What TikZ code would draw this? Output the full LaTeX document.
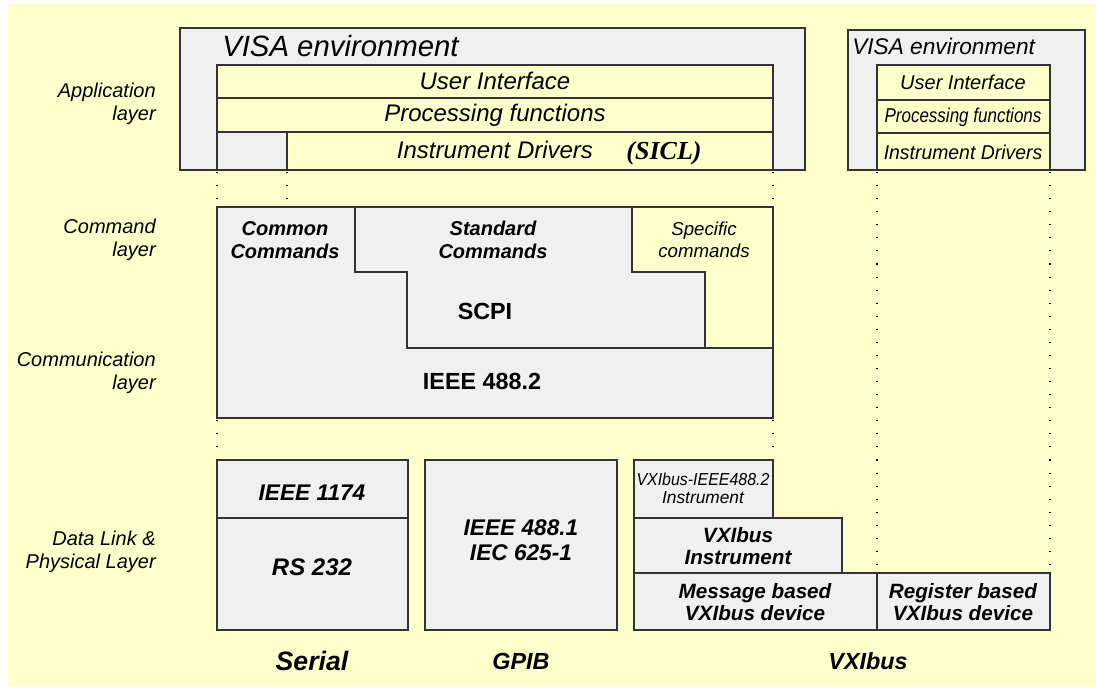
\documentclass[tikz,border=0pt]{standalone}
\usepackage{fontspec}
\setmainfont{Liberation Sans}
\newfontfamily\timesf{Liberation Serif}
\definecolor{bgy}{HTML}{FFFFCC}
\definecolor{boxg}{HTML}{F0F0F0}
\definecolor{edge}{HTML}{333333}
\newcommand{\fsz}[1]{\fontsize{#1}{1.15\dimexpr #1pt\relax}\selectfont}
\newcommand{\fszl}[2]{\fontsize{#1}{#2}\selectfont}
\begin{document}
\begin{tikzpicture}[x=0.75pt,y=-0.75pt,
  gbox/.style={draw=edge, fill=boxg, line width=0.8pt},
  ybox/.style={draw=edge, fill=bgy, line width=0.8pt},
  edgeline/.style={draw=edge, line width=0.8pt},
  dotl/.style={draw=black, line width=1.1pt, dash pattern=on 0.8pt off 9pt},
  lbl/.style={font=\itshape\fsz{15}, align=right, anchor=east, inner sep=0pt},
  itx/.style={font=\itshape\fsz{18}, inner sep=0pt},
  bix/.style={font=\bfseries\itshape\fsz{15}, align=center, inner sep=0pt},
  bup/.style={font=\bfseries\fsz{17.5}, align=center, inner sep=0pt},
  sitx/.style={font=\itshape\fsz{15}, inner sep=0pt}]
\useasboundingbox (0,0) rectangle (1096,687);
\fill[white] (0,0) rectangle (1096,687);
\fill[bgy] (8,4) rectangle (1096,687);

% ---------- Application layer: left VISA environment
\draw[gbox] (180,28) rectangle (805,170);
\node[anchor=base west, font=\itshape\fsz{22}, inner sep=0pt] (visaA) at (222,56) {VISA environment};
\draw[ybox] (217,65) rectangle (773,98);
\draw[ybox] (217,98) rectangle (773,132);
\draw[gbox] (217,132) rectangle (287,170);
\draw[ybox] (287,132) rectangle (773,170);
\node[itx] (uiA) at (495,81) {User Interface};
\node[itx] (pfA) at (495,115) {Processing functions};
\node[itx] (idA) at (495,150) {Instrument Drivers};
\node[font=\timesf\bfseries\itshape\fsz{19.5}, inner sep=0pt] (sicl) at (664,153) {(SICL)};

% ---------- right VISA environment
\draw[gbox] (848,30) rectangle (1085,170);
\node[anchor=base west, font=\itshape\fsz{17}, inner sep=0pt] (visaB) at (852,54) {VISA environment};
\draw[ybox] (877,65) rectangle (1050,100);
\draw[ybox] (877,100) rectangle (1050,133);
\draw[ybox] (877,133) rectangle (1050,170);
\node[sitx] (uiB) at (963,82) {User Interface};
\node[sitx] (pfB) at (963,117) {\scalebox{0.85}[1]{Processing functions}};
\node[sitx] (idB) at (963,152) {\scalebox{0.97}[1]{Instrument Drivers}};

% ---------- Command / communication layer
\fill[boxg] (217,207) rectangle (773,418);
\fill[bgy] (632,207) -- (773,207) -- (773,348) -- (705,348) -- (705,272) -- (632,272) -- cycle;
\draw[edgeline] (217,207) rectangle (773,418);
\draw[edgeline] (355,207) -- (355,272) -- (407,272) -- (407,348) -- (773,348);
\draw[edgeline] (632,207) -- (632,272) -- (705,272) -- (705,348);
\node[bix] (common) at (285,240) {Common\\Commands};
\node[bix] (standard) at (493,240) {Standard\\Commands};
\node[font=\itshape\fsz{14}, align=center, inner sep=0pt] (specific) at (704,240) {Specific\\commands};
\node[bup] (scpi) at (485,311) {SCPI};
\node[bup] (ieee4882) at (482,381) {IEEE 488.2};

% ---------- Data link & physical layer
\draw[gbox] (217,460) rectangle (408,630);
\draw[edgeline] (217,518) -- (408,518);
\node[bix, font=\bfseries\itshape\fsz{17}] (ieee1174) at (312,493) {IEEE 1174};
\node[bix, font=\bfseries\itshape\fsz{18}] (rs232) at (312,567) {RS 232};

\draw[gbox] (425,460) rectangle (617,630);
\node[bix, font=\bfseries\itshape\fszl{17}{19pt}] (gpibstd) at (521,540) {IEEE 488.1\\IEC 625-1};

\draw[gbox] (634,460) rectangle (773,518);
\draw[gbox] (634,518) rectangle (842,573);
\draw[gbox] (634,573) rectangle (877,630);
\draw[gbox] (877,573) rectangle (1050,630);
\node[font=\itshape\fszl{13}{13.5pt}, align=center, inner sep=0pt] (vxi488) at (703,488) {\scalebox{0.92}[1]{VXIbus-IEEE488.2}\\Instrument};
\node[bix, font=\bfseries\itshape\fszl{15.5}{17pt}] (vxiinst) at (738,546) {VXIbus\\Instrument};
\node[bix, font=\bfseries\itshape\fszl{15.5}{17pt}] (msg) at (755,602) {Message based\\VXIbus device};
\node[bix, font=\bfseries\itshape\fszl{15.5}{17pt}] (reg) at (963,602) {Register based\\VXIbus device};

\node[bix, font=\bfseries\itshape\fsz{20}] (serial) at (312,661) {Serial};
\node[bix, font=\bfseries\itshape\fsz{17.5}] (gpib) at (521,661) {GPIB};
\node[bix, font=\bfseries\itshape\fsz{17.5}] (vxibus) at (868,661) {VXIbus};

% ---------- layer labels
\node[lbl] (lapp) at (156,104) {Application\\layer};
\node[lbl] (lcmd) at (156,240) {Command\\layer};
\node[lbl] (lcom) at (156,373) {Communication\\layer};
\node[lbl] (ldl) at (156,552) {Data Link \&\\Physical Layer};

% ---------- dotted guide lines
\coordinate (d1a) at (217,172); \coordinate (d1b) at (217,206);
\coordinate (d2a) at (287,172); \coordinate (d2b) at (287,206);
\coordinate (d3a) at (773,172); \coordinate (d3b) at (773,206);
\coordinate (d4a) at (217,420); \coordinate (d4b) at (217,459);
\coordinate (d5a) at (773,420); \coordinate (d5b) at (773,459);
\coordinate (d6a) at (877,172); \coordinate (d6b) at (877,572);
\coordinate (d7a) at (1050,172); \coordinate (d7b) at (1050,572);
\foreach \p in {1,...,7} { \draw[dotl] (d\p a) -- (d\p b); }
\end{tikzpicture}
\end{document}
